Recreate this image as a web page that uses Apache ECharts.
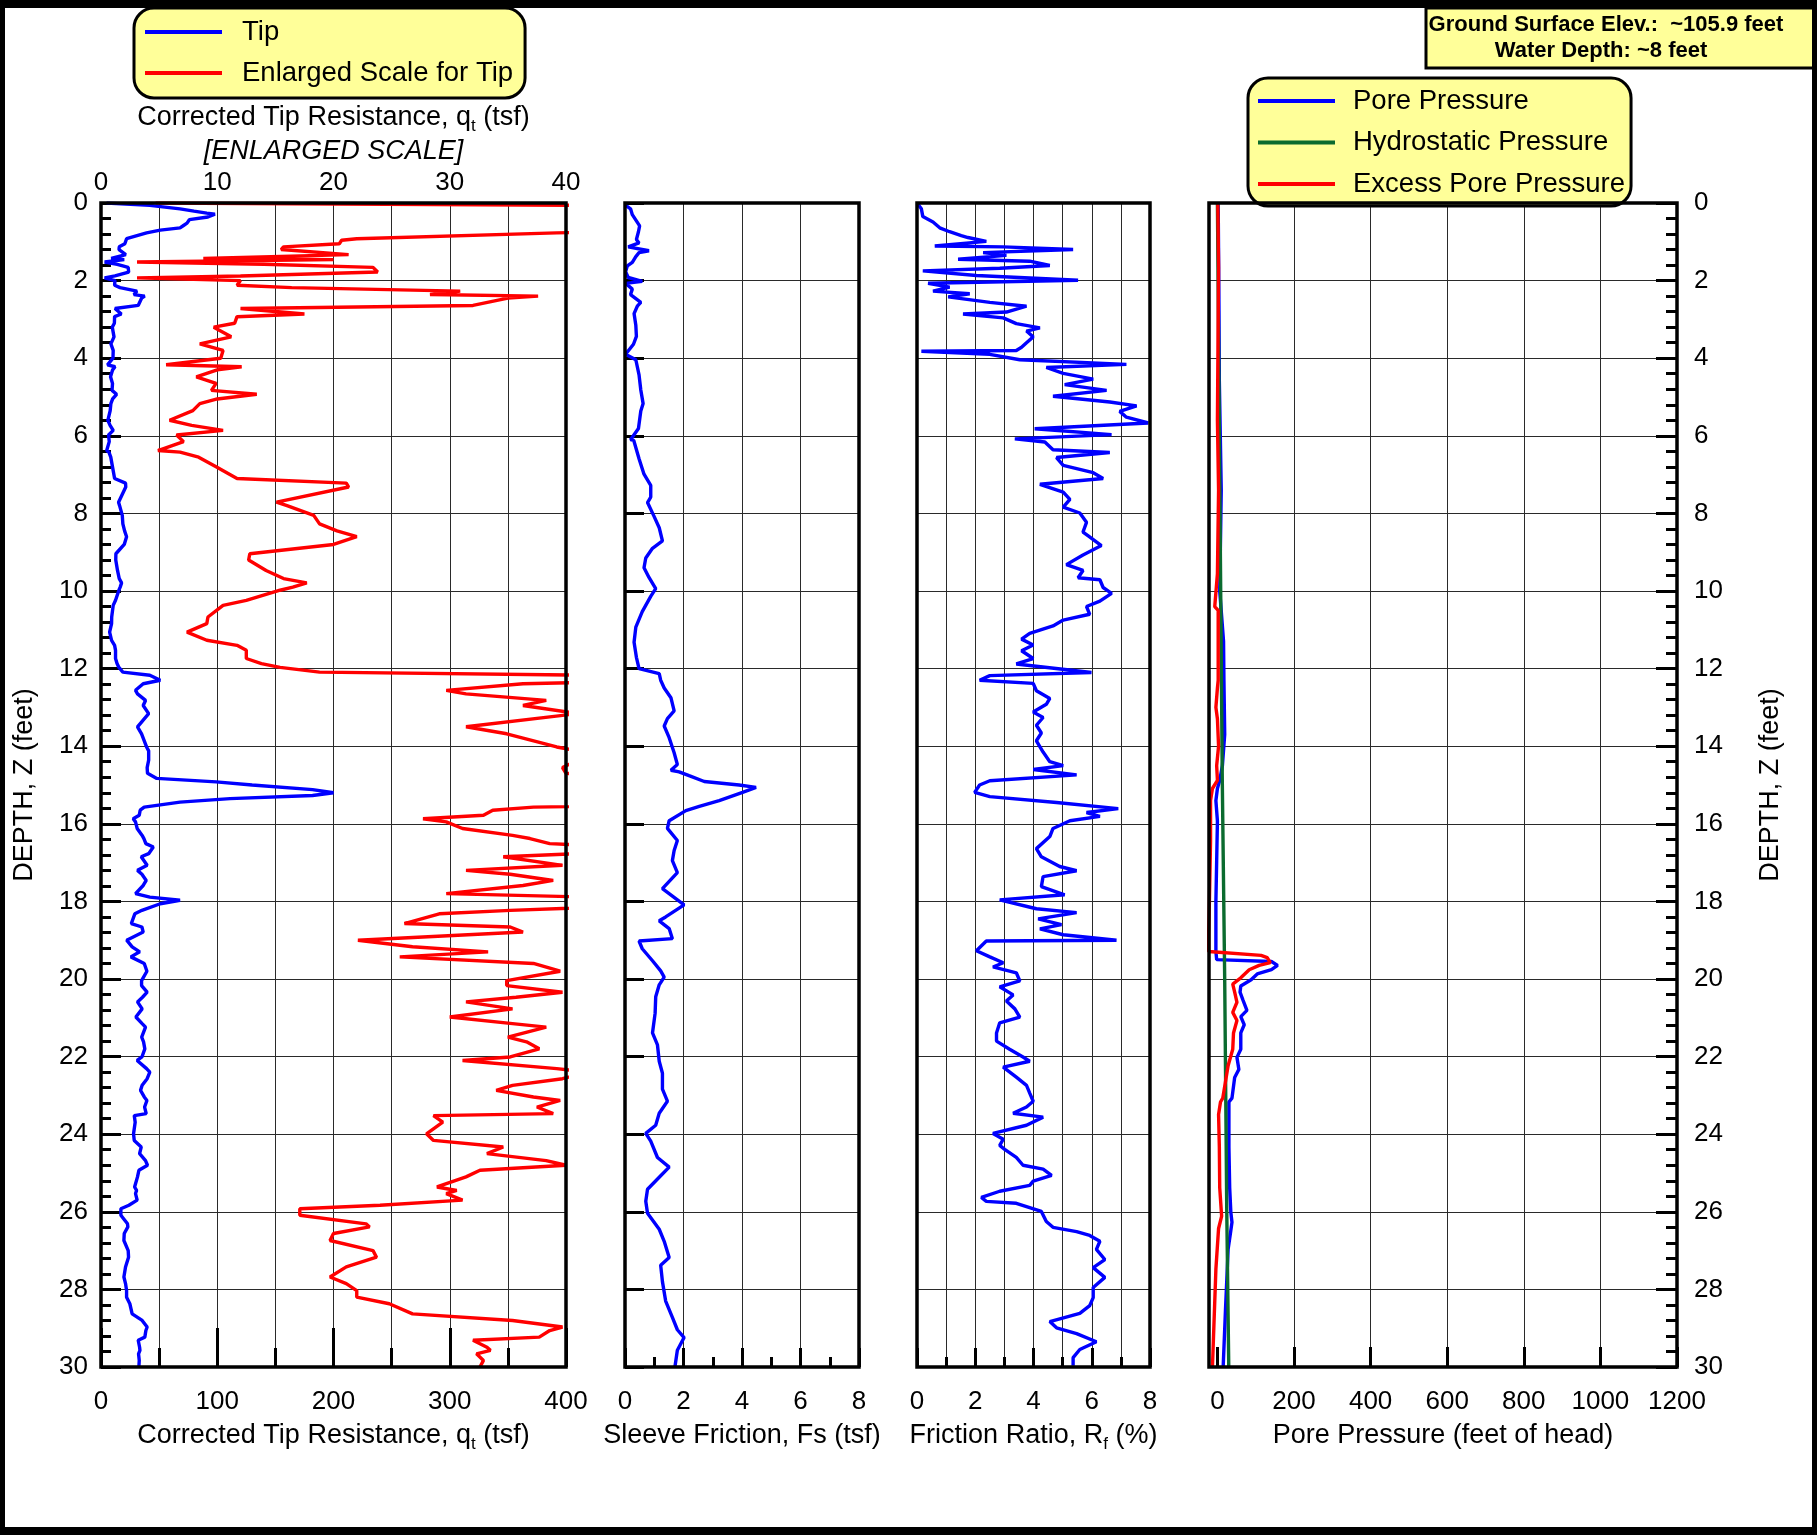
<!DOCTYPE html>
<html>
<head>
<meta charset="utf-8">
<script src="https://cdn.jsdelivr.net/npm/echarts@6.0.0/dist/echarts.min.js"></script>
<style>
  html, body { margin: 0; padding: 0; background: #fff; }
  #chart { width: 1817px; height: 1535px; }
</style>
</head>
<body>
<div id="chart"></div>
<script>
// ---- CPT sounding data, each entry is [depth (ft), value] ----

// Corrected tip resistance qt (tsf)
const tipResistance = [
  [0.00, 4.7], [0.06, 42], [0.15, 68], [0.21, 80], [0.26, 91], [0.29, 98], [0.36, 92], [0.43, 76],
  [0.52, 74], [0.58, 71], [0.64, 68], [0.70, 51], [0.77, 39.2], [0.92, 22], [0.96, 20.7], [1.05, 20.5],
  [1.13, 15.7], [1.20, 15.5], [1.33, 21.3], [1.43, 8.8], [1.46, 20], [1.52, 3.1], [1.58, 14], [1.66, 23.4],
  [1.78, 23.8], [1.88, 12], [1.93, 3.1], [2.00, 12], [2.12, 11.7], [2.18, 16.4], [2.27, 30.9], [2.36, 28.3],
  [2.40, 37.6], [2.45, 35], [2.64, 32], [2.72, 12], [2.86, 17.5], [2.93, 11.7], [3.10, 11.5], [3.20, 9.7],
  [3.45, 11.2], [3.63, 8.5], [3.80, 10.5], [4.00, 10.3], [4.17, 5.6], [4.22, 12.1], [4.30, 10], [4.48, 8.2],
  [4.65, 9.9], [4.83, 9.5], [4.93, 13.4], [5.05, 10], [5.17, 8.5], [5.35, 7.9], [5.60, 5.9], [5.73, 7.8],
  [5.86, 10.5], [5.98, 6.5], [6.15, 7.1], [6.38, 4.9], [6.42, 6.8], [6.55, 8.4], [6.80, 9.9], [7.10, 11.7],
  [7.22, 21.1], [7.32, 21.3], [7.71, 15.1], [7.80, 16], [8.05, 18.3], [8.27, 18.8], [8.45, 20.3], [8.60, 22],
  [8.80, 20], [9.04, 12.8], [9.20, 12.7], [9.47, 14.2], [9.68, 15.7], [9.79, 17.7], [9.90, 16.5], [9.98, 15.4],
  [10.24, 12.5], [10.37, 10.5], [10.67, 9.2], [10.84, 9.1], [11.06, 7.4], [11.27, 9.1], [11.40, 11.7], [11.53, 12.5],
  [11.74, 12.5], [11.87, 13.8], [11.97, 15.4], [12.09, 18.8], [12.17, 42], [12.30, 51], [12.39, 36.3], [12.56, 29.7],
  [12.65, 31.4], [12.82, 38.3], [12.95, 36.3], [13.16, 41], [13.50, 31.4], [13.68, 34.9], [14.02, 39.2], [14.12, 41],
  [14.36, 41], [14.55, 39.7], [14.70, 40], [14.83, 48], [14.92, 99], [15.00, 130], [15.12, 182], [15.20, 200],
  [15.27, 182], [15.35, 111], [15.44, 68], [15.57, 37.2], [15.65, 33.7], [15.78, 32.9], [15.87, 27.7], [15.95, 29.7],
  [16.12, 31.1], [16.30, 35.4], [16.38, 36.9], [16.51, 38.6], [16.60, 45], [16.77, 41], [16.85, 34.6], [17.07, 39.7],
  [17.20, 31.4], [17.30, 35.2], [17.46, 38.9], [17.59, 36.3], [17.80, 29.7], [17.89, 42], [17.97, 68], [18.06, 51],
  [18.23, 35.2], [18.32, 29.1], [18.57, 26.1], [18.66, 35.2], [18.79, 36.3], [19.00, 22.1], [19.17, 26.8], [19.30, 33.3],
  [19.43, 25.7], [19.60, 37.2], [19.65, 37.2], [19.80, 39.5], [20.04, 34.9], [20.17, 34.9], [20.34, 39.7], [20.47, 35.7],
  [20.59, 31.4], [20.77, 35.4], [20.98, 30], [21.15, 35.4], [21.24, 38.3], [21.50, 35], [21.62, 36.6], [21.80, 37.7],
  [22.01, 35.2], [22.10, 31.1], [22.31, 39.2], [22.40, 42], [22.57, 39.7], [22.74, 35.4], [22.87, 34], [23.04, 37.2],
  [23.13, 39.5], [23.30, 37.5], [23.47, 38.9], [23.52, 28.6], [23.69, 29.4], [23.99, 28], [24.16, 28.6], [24.33, 34.6],
  [24.50, 33.2], [24.68, 38.3], [24.80, 40], [24.93, 32.6], [25.10, 31.4], [25.36, 28.9], [25.45, 30.6], [25.53, 29.7],
  [25.70, 31.1], [25.83, 24], [25.92, 17.1], [26.09, 17.1], [26.31, 22.8], [26.39, 23.1], [26.56, 20], [26.74, 19.7],
  [27.00, 23.4], [27.17, 23.7], [27.42, 21.1], [27.68, 19.7], [27.85, 21.1], [28.03, 22], [28.20, 22], [28.37, 24.8],
  [28.63, 26.8], [28.80, 35.4], [28.97, 39.7], [29.06, 38.6], [29.23, 37.7], [29.31, 32], [29.49, 33.2], [29.57, 33.5],
  [29.66, 32.3], [29.83, 32.9], [30.00, 32.6]
];

// Sleeve friction fs (tsf)
const sleeveFriction = [
  [0.05, 0], [0.15, 0.19], [0.30, 0.25], [0.59, 0.5], [0.74, 0.46], [0.94, 0.39], [1.03, 0.48], [1.13, 0.11],
  [1.23, 0.82], [1.28, 0.48], [1.38, 0.37], [1.53, 0.25], [1.62, 0.08], [1.77, 0.02], [1.92, 0.11], [2.02, 0.59],
  [2.07, 0.02], [2.22, 0.25], [2.36, 0.19], [2.56, 0.54], [2.66, 0.42], [2.85, 0.31], [3.15, 0.37], [3.44, 0.39],
  [3.64, 0.29], [3.84, 0.08], [3.89, 0], [4.04, 0.37], [4.43, 0.48], [4.82, 0.54], [5.17, 0.62], [5.36, 0.54],
  [5.81, 0.46], [6.10, 0.19], [6.12, 0.3], [6.59, 0.48], [6.99, 0.65], [7.28, 0.88], [7.58, 0.88], [7.72, 0.77],
  [8.07, 0.99], [8.37, 1.17], [8.71, 1.28], [8.90, 0.94], [9.15, 0.71], [9.40, 0.65], [9.65, 0.82], [9.94, 1.05],
  [10.14, 0.88], [10.53, 0.59], [10.93, 0.37], [11.32, 0.31], [11.71, 0.39], [12.00, 0.48], [12.13, 1.17], [12.30, 1.22],
  [12.50, 1.34], [12.75, 1.57], [13.09, 1.68], [13.29, 1.45], [13.48, 1.34], [13.78, 1.51], [14.17, 1.68], [14.47, 1.79],
  [14.62, 1.57], [14.66, 1.85], [14.76, 2.19], [14.91, 2.71], [15.00, 3.9], [15.06, 4.48], [15.11, 4.54], [15.19, 4.02],
  [15.40, 3.22], [15.55, 2.54], [15.66, 2.08], [15.92, 1.51], [16.12, 1.45], [16.43, 1.79], [16.69, 1.68], [16.95, 1.62],
  [17.26, 1.79], [17.67, 1.28], [18.09, 2.02], [18.40, 1.39], [18.50, 1.17], [18.70, 1.51], [18.96, 1.62], [19.02, 0.48],
  [19.22, 0.59], [19.53, 0.94], [19.79, 1.22], [19.95, 1.34], [20.15, 1.17], [20.46, 1.05], [20.88, 1.03], [21.39, 0.94],
  [21.70, 1.11], [22.12, 1.17], [22.43, 1.28], [22.84, 1.28], [23.15, 1.45], [23.46, 1.17], [23.77, 1.05], [23.98, 0.71],
  [24.18, 0.88], [24.60, 1.11], [24.85, 1.51], [25.11, 1.17], [25.42, 0.77], [25.73, 0.71], [26.04, 0.77], [26.45, 1.17],
  [26.76, 1.34], [27.18, 1.51], [27.38, 1.22], [27.80, 1.28], [28.30, 1.39], [28.72, 1.62], [29.04, 1.79], [29.24, 2.02],
  [29.57, 1.79], [29.98, 1.71]
];

// Friction ratio Rf (%)
const frictionRatio = [
  [0, 0], [0.15, 0.15], [0.35, 0.2], [0.49, 0.55], [0.64, 0.78], [0.74, 1.12], [0.84, 1.52], [0.89, 1.75],
  [0.99, 2.38], [1.11, 0.61], [1.13, 2.96], [1.20, 5.36], [1.28, 2.27], [1.35, 3.07], [1.45, 1.41], [1.50, 3.87],
  [1.61, 4.56], [1.68, 2.84], [1.75, 0.2], [1.87, 2.04], [1.99, 5.53], [2.07, 0.38], [2.17, 1.12], [2.27, 0.55],
  [2.34, 1.81], [2.42, 1.07], [2.56, 2.5], [2.66, 3.76], [2.81, 3.07], [2.86, 1.58], [2.96, 2.96], [3.11, 3.41],
  [3.22, 4.22], [3.30, 3.76], [3.45, 3.99], [3.60, 3.76], [3.72, 3.59], [3.80, 3.41], [3.82, 0.15], [3.90, 2.5],
  [4.04, 3.53], [4.16, 7.19], [4.24, 4.44], [4.39, 5.02], [4.54, 6.05], [4.68, 5.07], [4.83, 6.51], [4.98, 4.67],
  [5.13, 6.62], [5.23, 7.54], [5.37, 6.96], [5.52, 7.19], [5.67, 7.94], [5.82, 4.04], [5.97, 6.68], [6.08, 3.36],
  [6.16, 4.39], [6.36, 4.67], [6.43, 6.62], [6.56, 4.79], [6.76, 5.02], [6.95, 6.05], [7.10, 6.39], [7.25, 4.22],
  [7.45, 5.02], [7.64, 5.25], [7.84, 5.02], [7.99, 5.59], [8.23, 5.82], [8.48, 5.7], [8.58, 5.88], [8.83, 6.33],
  [9.07, 5.7], [9.32, 5.13], [9.47, 5.7], [9.66, 5.53], [9.71, 6.28], [9.91, 6.39], [10.06, 6.68], [10.26, 6.28],
  [10.40, 5.82], [10.60, 5.93], [10.75, 5.02], [10.90, 4.67], [11.09, 3.87], [11.24, 3.59], [11.39, 3.99], [11.54, 3.59],
  [11.74, 3.99], [11.88, 3.41], [12.10, 5.99], [12.18, 2.5], [12.30, 2.15], [12.38, 3.99], [12.57, 4.1], [12.77, 4.56],
  [12.92, 4.44], [13.12, 3.99], [13.26, 4.33], [13.46, 4.1], [13.66, 4.27], [13.86, 4.1], [14.15, 4.33], [14.40, 4.56],
  [14.50, 5.02], [14.60, 3.99], [14.74, 5.48], [14.89, 2.5], [15.00, 2.15], [15.19, 1.98], [15.30, 2.5], [15.45, 4.79],
  [15.61, 6.91], [15.71, 5.82], [15.81, 6.28], [15.92, 5.25], [16.12, 4.67], [16.33, 4.56], [16.64, 4.1], [16.85, 4.27],
  [17.10, 4.9], [17.21, 5.48], [17.36, 4.33], [17.62, 4.27], [17.83, 5.07], [17.96, 2.84], [18.19, 4.1], [18.29, 5.48],
  [18.45, 4.16], [18.60, 4.96], [18.71, 4.22], [18.86, 5.02], [19.00, 6.85], [19.02, 2.38], [19.27, 2.04], [19.43, 2.5],
  [19.58, 2.96], [19.69, 2.61], [19.84, 3.41], [20.05, 3.53], [20.20, 2.84], [20.41, 3.3], [20.57, 3.07], [20.77, 3.36],
  [20.98, 3.53], [21.13, 2.84], [21.39, 2.73], [21.60, 2.73], [21.81, 3.18], [22.01, 3.64], [22.12, 3.87], [22.27, 2.96],
  [22.53, 3.41], [22.74, 3.76], [22.94, 3.87], [23.15, 3.99], [23.30, 3.76], [23.46, 3.3], [23.56, 4.33], [23.77, 3.76],
  [23.98, 2.61], [24.13, 2.96], [24.29, 2.84], [24.39, 3.01], [24.60, 3.41], [24.80, 3.64], [24.90, 4.33], [25.06, 4.62],
  [25.21, 3.99], [25.32, 3.87], [25.47, 2.84], [25.63, 2.21], [25.73, 2.38], [25.78, 3.41], [25.99, 4.27], [26.25, 4.44],
  [26.40, 4.67], [26.51, 5.48], [26.61, 5.93], [26.76, 6.28], [26.97, 6.16], [27.23, 6.45], [27.44, 6.05], [27.69, 6.45],
  [27.95, 6.05], [28.21, 6.05], [28.42, 5.93], [28.62, 5.59], [28.83, 4.56], [28.99, 4.79], [29.14, 5.48], [29.35, 6.16],
  [29.55, 5.59], [29.76, 5.36], [29.97, 5.36]
];

// Pore pressure u2 (feet of head)
const porePressure = [
  [0, 2], [2.66, 4], [4.6, 5], [7.4, 10], [10.0, 6], [11.3, 16], [12.3, 17], [13.7, 19], [14.5, 13], [14.88, 6],
  [15.09, 0], [15.4, -4], [15.93, 0], [16.97, -2], [18.0, -4], [19.29, -4], [19.5, -2], [19.55, 141], [19.65, 157],
  [19.76, 141], [19.87, 104], [20.02, 88], [20.18, 61], [20.34, 59], [20.55, 67], [20.81, 77], [20.97, 61],
  [21.18, 70], [21.39, 61], [21.81, 61], [22.02, 51], [22.33, 56], [22.54, 45], [23.07, 38], [23.17, 30],
  [23.49, 30], [24.33, 30], [25.38, 32], [26.01, 35], [26.27, 38], [26.48, 35], [26.96, 28], [28.53, 21], [30, 15]
];

// Hydrostatic pressure u0 (feet of head)
const hydrostaticPressure = [
  [0, 0], [14.88, 12.7], [20, 19], [26, 24.4], [30, 29.6]
];

// Excess pore pressure u2 - u0 (feet of head)
const excessPorePressure = [
  [0, 1], [1.67, 3], [5.6, 0], [7.4, 3], [9.55, 0], [10.4, -7], [10.5, 2], [12.3, 2], [12.5, 0], [13.0, -4],
  [13.3, 0], [14.0, 3], [14.5, -2], [14.88, 0], [15.09, -13], [15.4, -18], [16.45, -18], [18.03, -21], [18.87, -23],
  [19.29, -23], [19.39, 114], [19.45, 130], [19.58, 138], [19.65, 109], [19.76, 83], [19.97, 61], [20.13, 40],
  [20.34, 45], [20.6, 51], [20.86, 40], [21.07, 51], [21.39, 42], [21.81, 40], [22.23, 28], [22.65, 21],
  [23.07, 14], [23.17, 8], [23.49, 3], [24.33, 5], [25.38, 6], [26.11, 11], [26.43, 3], [27.48, -4], [30, -13]
];

// Axis tick values for the pore pressure scale
const poreTicks = [0, 200, 400, 600, 800, 1000, 1200];

// ---- layout & styling ----
const FONT = '"Liberation Sans", Arial, Helvetica, sans-serif';
const BLACK = '#000';
const GRID_LINE = { color: '#2a2a2a', width: 1 };
const BLUE = '#0000FF', RED = '#FF0000', GREEN = '#0B6B2F', YELLOW = '#FFFF99';
const LINE_W = 3.4;

const panels = [
  { left: 101, top: 203, width: 465, height: 1164 },
  { left: 625, top: 203, width: 234, height: 1164 },
  { left: 917, top: 203, width: 233, height: 1164 },
  { left: 1209, top: 203, width: 468, height: 1164 }
];

const richName = {
  a: { fontSize: 27, fontFamily: FONT, color: BLACK, lineHeight: 34 },
  s: { fontSize: 17, fontFamily: FONT, color: BLACK, verticalAlign: 'bottom', lineHeight: 30 },
  i: { fontSize: 27, fontFamily: FONT, color: BLACK, fontStyle: 'italic', lineHeight: 34 }
};

const tickLabel = { fontSize: 26, fontFamily: FONT, color: BLACK, formatter: v => String(v) };
const noLine = { show: false, onZero: false };

function toXY(pairs) { return pairs.map(p => [p[1], p[0]]); }

function depthAxis(gridIndex, extra) {
  return Object.assign({
    type: 'value', gridIndex: gridIndex, inverse: true, min: 0, max: 30, interval: 2,
    axisLine: noLine,
    axisTick: { show: false },
    axisLabel: { show: false },
    splitLine: { show: true, showMinLine: false, showMaxLine: false, lineStyle: GRID_LINE }
  }, extra || {});
}

function lineSeries(name, pairs, color, xi, yi, z) {
  return {
    name: name, type: 'line', xAxisIndex: xi, yAxisIndex: yi,
    data: toXY(pairs), showSymbol: false, symbol: 'none', clip: true,
    lineStyle: { color: color, width: LINE_W }, itemStyle: { color: color },
    z: z || 2, animation: false
  };
}

const option = {
  backgroundColor: '#fff',
  animation: false,
  grid: panels.map(p => Object.assign({ containLabel: false }, p)),
  legend: [
    {
      data: ['Tip', 'Enlarged Scale for Tip'],
      orient: 'vertical', left: 134, top: 8,
      backgroundColor: YELLOW, borderColor: BLACK, borderWidth: 3, borderRadius: 20,
      padding: [10, 12, 11, 11],
      itemWidth: 77, itemHeight: 4, itemGap: 13, icon: 'rect',
      textStyle: { fontSize: 27.5, fontFamily: FONT, color: BLACK, padding: [0, 0, 0, 15] },
      selectedMode: false
    },
    {
      data: ['Pore Pressure', 'Hydrostatic Pressure', 'Excess Pore Pressure'],
      orient: 'vertical', left: 1248, top: 78,
      backgroundColor: YELLOW, borderColor: BLACK, borderWidth: 3, borderRadius: 20,
      padding: [9, 6, 8, 10],
      itemWidth: 77, itemHeight: 4, itemGap: 13.5, icon: 'rect',
      textStyle: { fontSize: 27.5, fontFamily: FONT, color: BLACK, padding: [0, 0, 0, 13] },
      selectedMode: false
    }
  ],
  xAxis: [
    // panel 1: tip resistance, 0-400 tsf
    {
      type: 'value', gridIndex: 0, position: 'bottom', min: 0, max: 400, interval: 100,
      axisLine: noLine,
      axisTick: { show: true, inside: true, length: 39, lineStyle: { color: BLACK, width: 3 } },
      minorTick: { show: true, splitNumber: 2, length: 19, lineStyle: { color: BLACK, width: 3 } },
      splitLine: { show: true, showMinLine: false, showMaxLine: false, lineStyle: GRID_LINE },
      minorSplitLine: { show: true, lineStyle: GRID_LINE },
      axisLabel: Object.assign({ margin: 22 }, tickLabel),
      name: '{a|Corrected Tip Resistance, q}{s|t}{a| (tsf)}',
      nameLocation: 'middle', nameGap: 52, nameTextStyle: { rich: richName }
    },
    // panel 1: enlarged scale, 0-40 tsf
    {
      type: 'value', gridIndex: 0, position: 'top', min: 0, max: 40, interval: 10,
      axisLine: noLine, axisTick: { show: false }, splitLine: { show: false },
      axisLabel: Object.assign({ margin: 7 }, tickLabel),
      name: '{a|Corrected Tip Resistance, q}{s|t}{a| (tsf)}\n{i|[ENLARGED SCALE]}',
      nameLocation: 'middle', nameGap: 34, nameTextStyle: { rich: richName }
    },
    // panel 2: sleeve friction
    {
      type: 'value', gridIndex: 1, position: 'bottom', min: 0, max: 8, interval: 2,
      axisLine: noLine,
      axisTick: { show: true, inside: true, length: 19, lineStyle: { color: BLACK, width: 3 } },
      minorTick: { show: true, splitNumber: 2, length: 10, lineStyle: { color: BLACK, width: 3 } },
      splitLine: { show: true, showMinLine: false, showMaxLine: false, lineStyle: GRID_LINE },
      axisLabel: Object.assign({ margin: 22 }, tickLabel),
      name: '{a|Sleeve Friction, Fs (tsf)}',
      nameLocation: 'middle', nameGap: 52, nameTextStyle: { rich: richName }
    },
    // panel 3: friction ratio
    {
      type: 'value', gridIndex: 2, position: 'bottom', min: 0, max: 8, interval: 2,
      axisLine: noLine,
      axisTick: { show: true, inside: true, length: 19, lineStyle: { color: BLACK, width: 3 } },
      minorTick: { show: true, splitNumber: 2, length: 10, lineStyle: { color: BLACK, width: 3 } },
      splitLine: { show: true, showMinLine: false, showMaxLine: false, lineStyle: GRID_LINE },
      minorSplitLine: { show: true, lineStyle: GRID_LINE },
      axisLabel: Object.assign({ margin: 22 }, tickLabel),
      name: '{a|Friction Ratio, R}{s|f}{a| (%)}',
      nameLocation: 'middle', nameGap: 52, nameTextStyle: { rich: richName }
    },
    // panel 4: pore pressure
    {
      type: 'value', gridIndex: 3, position: 'bottom', min: -22, max: 1200,
      axisLine: noLine,
      axisTick: { show: true, inside: true, length: 20, customValues: poreTicks, lineStyle: { color: BLACK, width: 3 } },
      splitLine: { show: true, showMinLine: false, showMaxLine: false, lineStyle: GRID_LINE },
      axisLabel: Object.assign({ margin: 22, customValues: poreTicks }, tickLabel),
      name: '{a|Pore Pressure (feet of head)}',
      nameLocation: 'middle', nameGap: 52, nameTextStyle: { rich: richName }
    }
  ],
  yAxis: [
    depthAxis(0, {
      axisTick: { show: true, inside: true, length: 20, lineStyle: { color: BLACK, width: 3 } },
      minorTick: { show: true, splitNumber: 5, length: 10, lineStyle: { color: BLACK, width: 3 } },
      axisLabel: Object.assign({ show: true, margin: 13 }, tickLabel),
      name: 'DEPTH, Z (feet)', nameLocation: 'middle', nameGap: 63, nameRotate: 90,
      nameTextStyle: { fontSize: 27, fontFamily: FONT, color: BLACK }
    }),
    depthAxis(1, {
      axisTick: { show: true, inside: true, length: 19, lineStyle: { color: BLACK, width: 3 } }
    }),
    depthAxis(2),
    depthAxis(3, {
      position: 'right',
      axisTick: { show: true, inside: true, length: 21, lineStyle: { color: BLACK, width: 3 } },
      minorTick: { show: true, splitNumber: 5, length: 11, lineStyle: { color: BLACK, width: 3 } },
      axisLabel: Object.assign({ show: true, margin: 17 }, tickLabel),
      name: 'DEPTH, Z (feet)', nameLocation: 'middle', nameGap: 80, nameRotate: 90,
      nameTextStyle: { fontSize: 27, fontFamily: FONT, color: BLACK }
    })
  ],
  series: [
    lineSeries('Tip', tipResistance, BLUE, 0, 0, 3),
    lineSeries('Enlarged Scale for Tip', tipResistance, RED, 1, 0, 2),
    lineSeries('Sleeve Friction', sleeveFriction, BLUE, 2, 1),
    lineSeries('Friction Ratio', frictionRatio, BLUE, 3, 2),
    lineSeries('Pore Pressure', porePressure, BLUE, 4, 3, 2),
    lineSeries('Hydrostatic Pressure', hydrostaticPressure, GREEN, 4, 3, 3),
    lineSeries('Excess Pore Pressure', excessPorePressure, RED, 4, 3, 4)
  ],
  graphic: [].concat(
    // panel frames
    panels.map(p => ({
      type: 'rect', silent: true, z: 120,
      shape: { x: p.left, y: p.top, width: p.width, height: p.height },
      style: { fill: 'none', stroke: BLACK, lineWidth: 3.5 }
    })),
    [
      // site information box
      {
        type: 'rect', silent: true, z: 130,
        shape: { x: 1426, y: 8, width: 392, height: 60 },
        style: { fill: YELLOW, stroke: BLACK, lineWidth: 3 }
      },
      {
        type: 'text', silent: true, z: 131,
        style: { text: 'Ground Surface Elev.:  ~105.9 feet', x: 1606, y: 25, fill: BLACK,
                 font: 'bold 22px ' + FONT, textAlign: 'center', textVerticalAlign: 'middle' }
      },
      {
        type: 'text', silent: true, z: 131,
        style: { text: 'Water Depth: ~8 feet', x: 1601, y: 51, fill: BLACK,
                 font: 'bold 22px ' + FONT, textAlign: 'center', textVerticalAlign: 'middle' }
      },
      // outer page frame
      { type: 'rect', silent: true, z: 200, shape: { x: 0, y: 0, width: 1817, height: 8 }, style: { fill: BLACK } },
      { type: 'rect', silent: true, z: 200, shape: { x: 0, y: 1527, width: 1817, height: 8 }, style: { fill: BLACK } },
      { type: 'rect', silent: true, z: 200, shape: { x: 0, y: 0, width: 5, height: 1535 }, style: { fill: BLACK } },
      { type: 'rect', silent: true, z: 200, shape: { x: 1812, y: 0, width: 5, height: 1535 }, style: { fill: BLACK } }
    ]
  )
};

const chart = echarts.init(document.getElementById('chart'), null, { renderer: 'canvas' });
chart.setOption(option);
</script>
</body>
</html>
